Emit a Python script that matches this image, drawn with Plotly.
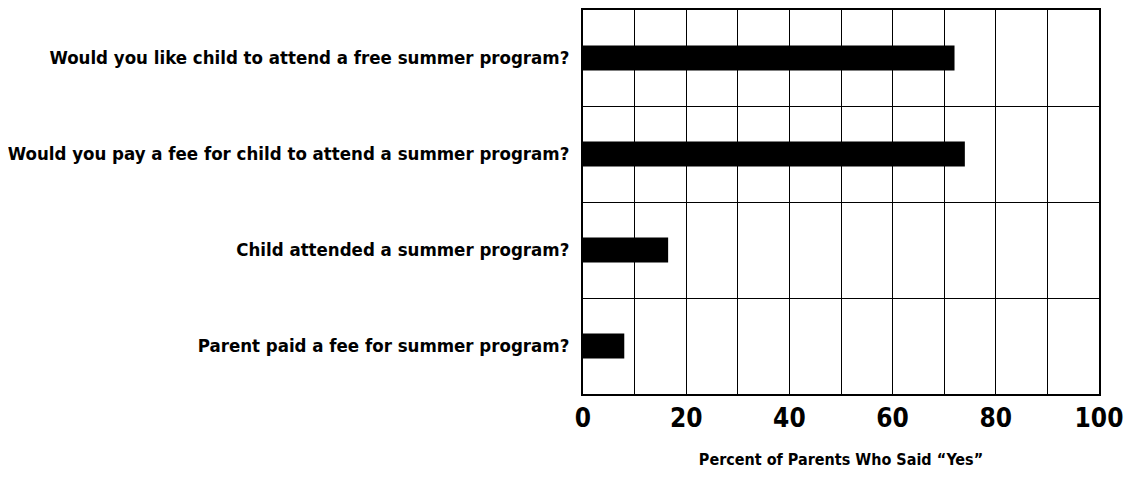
import plotly.graph_objects as go

questions = [
    "Would you like child to attend a free summer program?",
    "Would you pay a fee for child to attend a summer program?",
    "Child attended a summer program?",
    "Parent paid a fee for summer program?",
]
pct_yes = [72, 74, 16.5, 8]

tick_vals = [0, 20, 40, 60, 80, 100]
tick_text = ["0", "20", "40", "60", "80", "100"]

FONT = "Liberation Sans Narrow, DejaVu Sans Condensed, Arial Narrow, sans-serif"

fig = go.Figure(
    go.Bar(
        x=pct_yes,
        y=questions,
        orientation="h",
        width=0.26,
        marker=dict(color="black", line=dict(width=0)),
    )
)

# page body adds an 8px margin, so the figure is sized to fit inside it
fig.update_layout(
    width=1116,
    height=463,
    margin=dict(l=575, r=25, t=2, b=77),
    paper_bgcolor="white",
    plot_bgcolor="white",
    showlegend=False,
    font=dict(family=FONT, color="black"),
)

fig.update_xaxes(
    range=[0, 100],
    automargin=False,
    tickvals=tick_vals,
    ticktext=tick_text,
    tickfont=dict(family=FONT, size=26, weight="bold"),
    showgrid=True,
    gridcolor="black",
    gridwidth=1,
    minor=dict(dtick=10, showgrid=True, gridcolor="black", gridwidth=1),
    showline=True,
    linecolor="black",
    linewidth=2,
    mirror=True,
    zeroline=False,
    ticks="",
    ticklabelstandoff=0,
    title=dict(
        text="Percent of Parents Who Said \u201cYes\u201d",
        font=dict(family=FONT, size=16, weight="bold"),
        standoff=22,
    ),
)

fig.update_yaxes(
    autorange="reversed",
    automargin=False,
    tickson="boundaries",
    showgrid=True,
    gridcolor="black",
    gridwidth=1,
    showline=True,
    linecolor="black",
    linewidth=2,
    mirror=True,
    ticks="",
    ticklabelstandoff=8,
    tickfont=dict(family=FONT, size=18.5, weight="bold"),
)

fig.write_html("out.html")
